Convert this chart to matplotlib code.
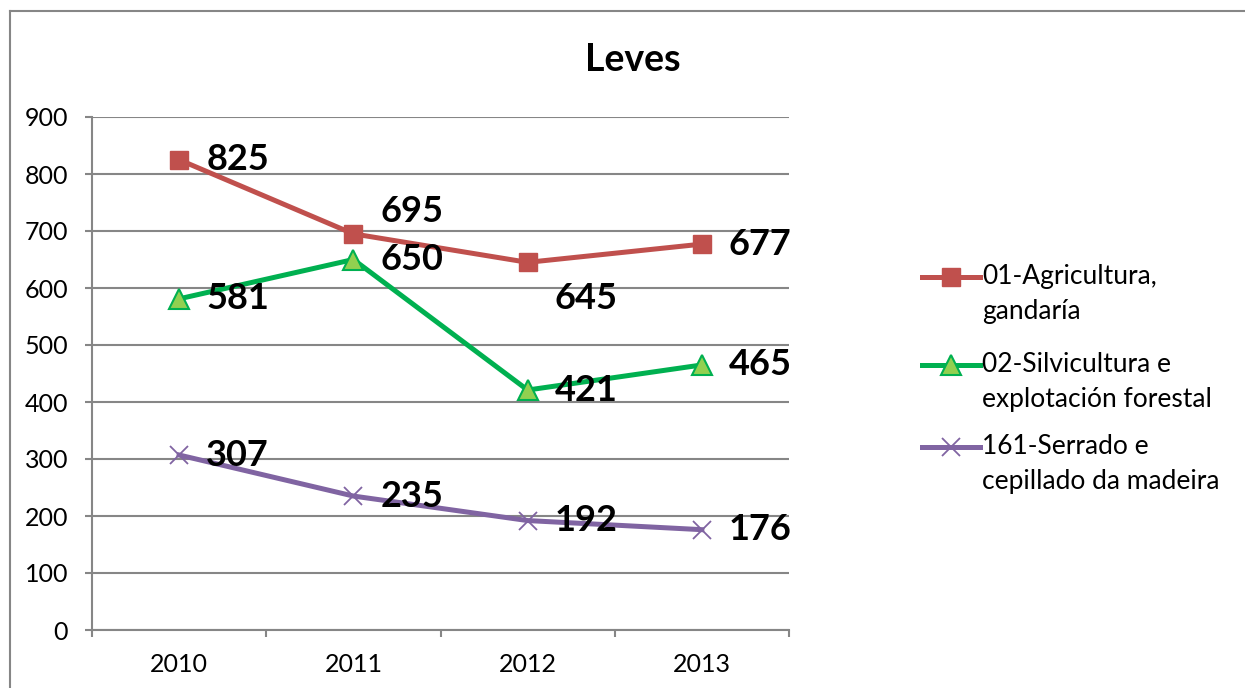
import matplotlib
matplotlib.use("Agg")
import matplotlib.pyplot as plt
from matplotlib.lines import Line2D

years = ["2010", "2011", "2012", "2013"]
agricultura = [825, 695, 645, 677]
silvicultura = [581, 650, 421, 465]
serrado = [307, 235, 192, 176]
series_labels = ["01-Agricultura,\ngandaría",
                 "02-Silvicultura e\nexplotación forestal",
                 "161-Serrado e\ncepillado da madeira"]
title = "Leves"
yticks = [0, 100, 200, 300, 400, 500, 600, 700, 800, 900]

plt.rcParams['font.family'] = ['Lato', 'DejaVu Sans']
DPI = 100
fig = plt.figure(figsize=(12.45, 6.88), dpi=DPI)
W, H = 1245, 688
ax = fig.add_axes([92 / W, 1 - 630 / H, (789 - 92) / W, (630 - 117) / H])

grid_c = "#868686"
x = list(range(len(years)))

styles = [
    dict(color="#C0504D", marker="s", markersize=13, markerfacecolor="#C0504D",
         markeredgecolor="#C0504D", markeredgewidth=1),
    dict(color="#00B050", marker="^", markersize=15, markerfacecolor="#92D050",
         markeredgecolor="#00B050", markeredgewidth=1.5),
    dict(color="#8064A2", marker="x", markersize=13, markeredgecolor="#8064A2",
         markeredgewidth=1.3),
]
all_series = [agricultura, silvicultura, serrado]
for vals, st, lab in zip(all_series, styles, series_labels):
    ax.plot(x, vals, linewidth=3.6, label=lab, zorder=3, **st)

# data labels (Excel "right" position, two moved manually)
px = 72 / DPI
offsets = {(0, 1): (27, 22), (0, 2): (27, -36)}
for si, vals in enumerate(all_series):
    for i, v in enumerate(vals):
        dx, dy = offsets.get((si, i), (27, 0))
        ax.annotate(str(v), (x[i], v), xytext=(dx * px, dy * px), textcoords="offset points",
                    ha="left", va="center", fontsize=26, fontweight="bold", color="black",
                    zorder=5)

ax.set_xlim(-0.5, 3.5)
ax.set_ylim(0, 900)
ax.set_yticks(yticks)
ax.set_yticklabels([str(t) for t in yticks])
ax.set_xticks(x)
ax.set_xticklabels(years)
ax.set_xticks([-0.5, 0.5, 1.5, 2.5, 3.5], minor=True)
ax.tick_params(axis="x", which="major", length=0, pad=23 * px, labelsize=18)
ax.tick_params(axis="x", which="minor", length=7 * px, width=1.5, color=grid_c, direction="out")
ax.tick_params(axis="y", length=7 * px, width=1.5, color=grid_c, pad=17 * px, labelsize=18)
ax.yaxis.grid(True, color=grid_c, linewidth=1.5, zorder=0)
ax.set_axisbelow(True)
for s in ["top", "right"]:
    ax.spines[s].set_visible(False)
for s in ["left", "bottom"]:
    ax.spines[s].set_color(grid_c)
    ax.spines[s].set_linewidth(1.5)

fig.text(633 / W, 1 - 60 / H, title, ha="center", va="center", fontsize=27, fontweight="bold")

# legend (handles aligned with first text line, as in the original)
leg_y = [277, 365, 447]
for st, lab, yy in zip(styles, series_labels, leg_y):
    fy = 1 - yy / H
    fig.add_artist(Line2D([922 / W, 980 / W], [fy, fy], transform=fig.transFigure,
                          linewidth=3.6, **{k: v for k, v in st.items() if k != "marker"}))
    fig.add_artist(Line2D([951 / W], [fy], transform=fig.transFigure, linestyle="none",
                          **st))
    fig.text(982 / W, 1 - (yy - 13) / H, lab, ha="left", va="top", fontsize=19,
             linespacing=1.5)

# outer chart border (left and top visible)
fig.add_artist(Line2D([10 / W, 10 / W], [0, 1 - 11 / H], transform=fig.transFigure,
                      color=grid_c, linewidth=1.5))
fig.add_artist(Line2D([10 / W, 1], [1 - 11 / H, 1 - 11 / H], transform=fig.transFigure,
                      color=grid_c, linewidth=1.5))

fig.savefig("out.png", dpi=DPI, facecolor="white")
